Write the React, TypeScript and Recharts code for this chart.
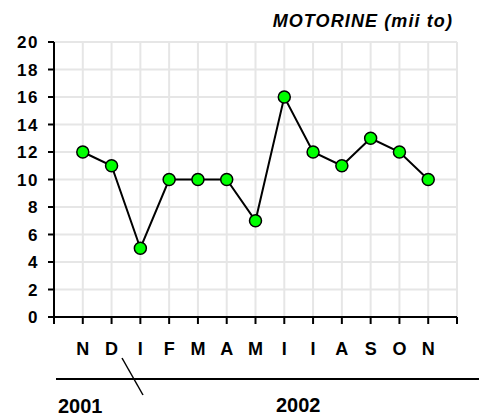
import React from "react";
import { LineChart, Line, XAxis, YAxis, CartesianGrid } from "recharts";

const months = ["N", "D", "I", "F", "M", "A", "M", "I", "I", "A", "S", "O", "N"];
const values = [12, 11, 5, 10, 10, 10, 7, 16, 12, 11, 13, 12, 10];
const yTicks = [0, 2, 4, 6, 8, 10, 12, 14, 16, 18, 20];
const xTicks = [0, 1, 2, 3, 4, 5, 6, 7, 8, 9, 10, 11, 12, 13, 14];
const title = "MOTORINE (mii to)";
const years = ["2001", "2002"];

const data = months.map((m, i) => ({ x: i + 1, label: m, v: values[i] }));

const FONT = '"Liberation Sans", Arial, Helvetica, sans-serif';

export default function App() {
  return (
    <div style={{ position: "absolute", left: 0, top: 0, width: 479, height: 416, background: "#fff" }}>
      <LineChart
        width={479}
        height={416}
        data={data}
        margin={{ top: 42, right: 22, bottom: 69, left: 10 }}
      >
        <CartesianGrid stroke="#e6e6e6" strokeWidth={2} />
        <XAxis
          dataKey="x"
          type="number"
          domain={[0, 14]}
          ticks={xTicks}
          interval={0}
          height={30}
          tickFormatter={(t: number) => months[t - 1] ?? ""}
          stroke="#000"
          strokeWidth={2}
          tickSize={7}
          tickMargin={18}
          tick={{ fill: "#000", fontSize: 18, fontWeight: "bold", fontFamily: FONT }}
        />
        <YAxis
          type="number"
          domain={[0, 20]}
          ticks={yTicks}
          interval={0}
          width={44}
          stroke="#000"
          strokeWidth={2}
          tickSize={6}
          tickMargin={9}
          tick={{ fill: "#000", fontSize: 17, fontWeight: "bold", fontFamily: FONT, letterSpacing: 1.5 }}
        />
        <Line
          dataKey="v"
          type="linear"
          stroke="#000"
          strokeWidth={2}
          isAnimationActive={false}
          dot={{ r: 6, fill: "#00ff00", stroke: "#000", strokeWidth: 1.5 }}
        />
      </LineChart>
      <svg
        width={479}
        height={416}
        style={{ position: "absolute", left: 0, top: 0, pointerEvents: "none" }}
      >
        <text
          x={453}
          y={27}
          textAnchor="end"
          fontFamily={FONT}
          fontSize={18}
          fontWeight="bold"
          fontStyle="italic"
          letterSpacing={1.1}
          fill="#000"
        >
          {title}
        </text>
        <line x1={56} y1={379} x2={479} y2={379} stroke="#000" strokeWidth={2} />
        <line x1={122} y1={358} x2={143} y2={395} stroke="#000" strokeWidth={1.5} />
        <text x={58} y={413} fontFamily={FONT} fontSize={20} fontWeight="bold" fill="#000">
          {years[0]}
        </text>
        <text x={276} y={412} fontFamily={FONT} fontSize={20} fontWeight="bold" fill="#000">
          {years[1]}
        </text>
      </svg>
    </div>
  );
}
